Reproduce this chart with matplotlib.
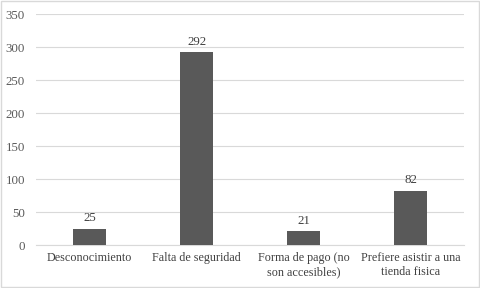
import matplotlib
matplotlib.use("Agg")
import matplotlib.pyplot as plt
import numpy as np

categories = ["Desconocimiento", "Falta de seguridad",
              "Forma de pago (no\nson accesibles)", "Prefiere asistir a una\ntienda fisica"]
values = [25, 292, 21, 82]
yticks = [0, 50, 100, 150, 200, 250, 300, 350]

plt.rcParams['font.family'] = ['Liberation Serif', 'DejaVu Serif']
plt.rcParams['font.size'] = 8.5

fig = plt.figure(figsize=(4.8, 2.88), dpi=100)
ax = fig.add_axes([0.075, 0.149, 0.892, 0.802])

x = np.arange(len(categories))
bars = ax.bar(x, values, width=0.31, color='#595959', zorder=3)

for xi, v in zip(x, values):
    ax.text(xi, v + 7, str(v), ha='center', va='bottom', color='#404040', fontsize=9.3)

ax.set_xlim(-0.5, len(categories) - 0.5)
ax.set_ylim(0, 350)
ax.set_yticks(yticks)
ax.set_xticks(x)
ax.set_xticklabels(categories, color='#404040', fontsize=8.7)
ax.tick_params(axis='y', length=0, pad=8, colors='#595959', labelsize=9.3)
ax.tick_params(axis='x', length=0, pad=5)

ax.grid(axis='y', color='#d9d9d9', linewidth=0.8, zorder=0)
for side in ['top', 'right', 'left']:
    ax.spines[side].set_visible(False)
ax.spines['bottom'].set_color('#d9d9d9')
ax.spines['bottom'].set_linewidth(0.8)

# light border round the whole chart
border = plt.Rectangle((0.002, 0.003), 0.996, 0.994, transform=fig.transFigure,
                       fill=False, edgecolor='#d9d9d9', linewidth=1)
fig.patches.append(border)

fig.savefig("out.png", dpi=100)
